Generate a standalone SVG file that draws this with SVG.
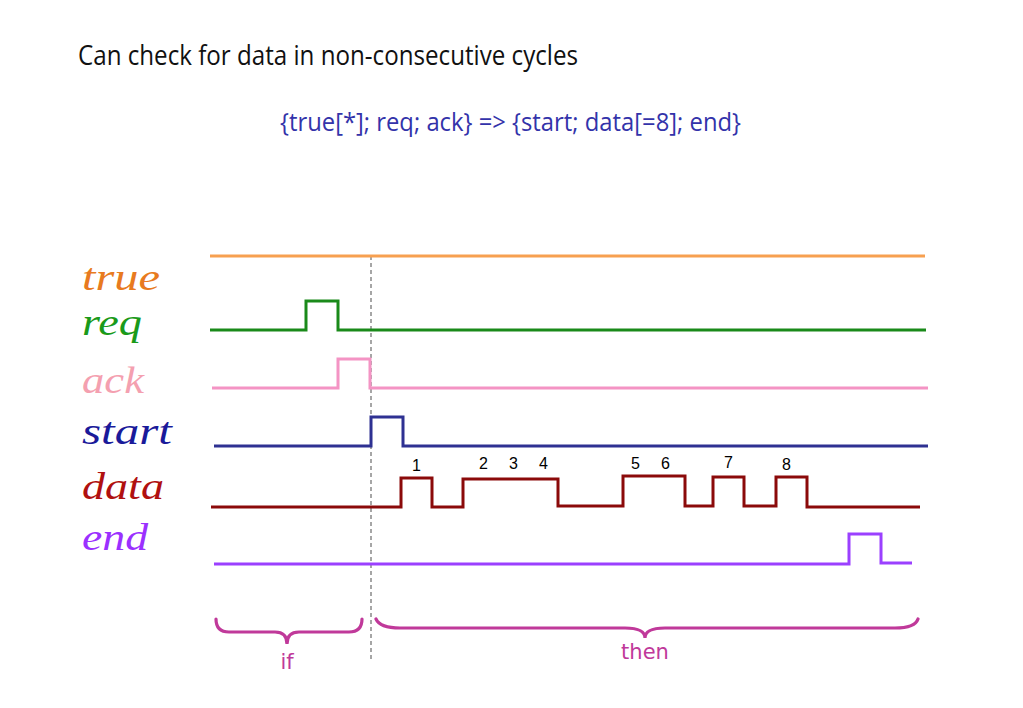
<svg xmlns="http://www.w3.org/2000/svg" width="1023" height="708" viewBox="0 0 1023 708">
<style>
.sig{fill:none;stroke-width:3;stroke-linejoin:miter}
.lbl{font-family:"Liberation Serif","DejaVu Serif",serif;font-style:italic;font-size:38px}
.num{font-family:"Liberation Sans",Arial,sans-serif;font-size:16px;fill:#000}
.brace{fill:none;stroke:#c0399a;stroke-width:3.2;stroke-linecap:round}
.bt{font-family:"Comic Sans MS","DejaVu Sans",sans-serif;font-size:21px;fill:#c0399a;text-anchor:middle}
</style>
<rect width="1023" height="708" fill="#fff"/>
<text x="78" y="65" font-family="Open Sans, Liberation Sans, sans-serif" font-size="27" fill="#111" textLength="500" lengthAdjust="spacingAndGlyphs">Can check for data in non-consecutive cycles</text>
<text x="280" y="131" font-family="Open Sans, Liberation Sans, sans-serif" font-size="26" fill="#3333aa" textLength="461" lengthAdjust="spacingAndGlyphs">{true[*]; req; ack} =&gt; {start; data[=8]; end}</text>
<g id="labels">
<text class="lbl" x="82" y="290" fill="#e87a20" textLength="78" lengthAdjust="spacingAndGlyphs">true</text>
<text class="lbl" x="82" y="335" fill="#1a9a1a" textLength="60" lengthAdjust="spacingAndGlyphs">req</text>
<text class="lbl" x="82" y="393" fill="#f4a0b0" textLength="62" lengthAdjust="spacingAndGlyphs">ack</text>
<text class="lbl" x="82" y="444" fill="#1a1a9a" textLength="90" lengthAdjust="spacingAndGlyphs">start</text>
<text class="lbl" x="82" y="499" fill="#b01010" textLength="82" lengthAdjust="spacingAndGlyphs">data</text>
<text class="lbl" x="82" y="550" fill="#9b30ff" textLength="66" lengthAdjust="spacingAndGlyphs">end</text>
</g>
<g id="connectors">
<line x1="371" y1="256" x2="371" y2="662" stroke="#777" stroke-width="1.3" stroke-dasharray="4,3"/>
</g>
<g id="sig-true"><path class="sig" stroke="#f7a050" d="M210 256 H925"/></g>
<g id="sig-req"><path class="sig" stroke="#1a8a1a" d="M210 330 H306 V301 H338 V330 H926"/></g>
<g id="sig-ack"><path class="sig" stroke="#f494c4" d="M212 388 H338 V359 H370 V388 H928"/></g>
<g id="sig-start"><path class="sig" stroke="#2e3192" d="M214 446 H371 V417 H403 V446 H928"/></g>
<g id="sig-data"><path class="sig" stroke="#8b0a0a" d="M211 507 H401 V478 H432 V507 H463 V479 H558 V506 H623 V476 H685 V506 H713 V477 H744 V506 H776 V477 H807 V507 H920"/></g>
<g id="sig-end"><path class="sig" stroke="#9b40ff" d="M214 564 H849 V534 H881 V563 H912"/></g>
<g id="numbers">
<text class="num" x="412" y="471">1</text>
<text class="num" x="479" y="469">2</text>
<text class="num" x="509" y="469">3</text>
<text class="num" x="539" y="469">4</text>
<text class="num" x="631" y="469">5</text>
<text class="num" x="661" y="469">6</text>
<text class="num" x="724" y="468">7</text>
<text class="num" x="782" y="470">8</text>
</g>
<g id="if-brace">
<path class="brace" d="M216 619 Q216 632 229 632 H275 Q287 632 287 644 Q287 632 299 632 H349 Q362 632 362 619"/>
<text class="bt" x="287" y="669">if</text>
</g>
<g id="then-brace">
<path class="brace" d="M376 619 Q380 628 400 628 H625 Q645 628 645 638 Q645 628 665 628 H895 Q915 628 918 619"/>
<text class="bt" x="645" y="659">then</text>
</g>
</svg>
